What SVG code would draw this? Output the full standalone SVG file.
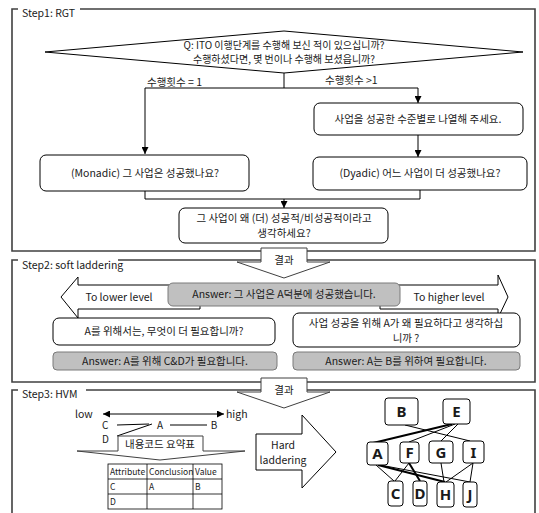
<svg xmlns="http://www.w3.org/2000/svg" width="539" height="513" viewBox="0 0 539 513">
<defs>
<marker id="ah" viewBox="0 0 10 10" refX="10" refY="5" markerWidth="7" markerHeight="7" orient="auto-start-reverse" markerUnits="userSpaceOnUse">
<path d="M0,0 L10,5 L0,10 z" fill="#000"/>
</marker>
</defs>
<style>
text{font-family:"Noto Sans CJK KR","Noto Sans",sans-serif;fill:#1a1a1a;}
.t{font-size:10.5px;text-anchor:middle;}
.lbl{font-size:10.5px;}
.frame{fill:none;stroke:#404040;stroke-width:1.6;}
.box{fill:#fff;stroke:#000;stroke-width:1;}
.ans{fill:#c0c0c0;stroke:#7a7a7a;stroke-width:1;}
.ln{fill:none;stroke:#000;stroke-width:1;}
.thk{fill:none;stroke:#000;stroke-width:2;}
.node{fill:#fff;stroke:#000;stroke-width:1;}
.nt{font-family:"Noto Sans","Noto Sans CJK KR",sans-serif;font-size:15px;font-weight:bold;text-anchor:middle;}
.tb{font-size:8.5px;}
.co{fill:#fff;stroke:#404040;stroke-width:1;}
</style>

<!-- frames -->
<g id="frame1">
<path class="frame" d="M18,9 H12 V251 H535 V9 H80"/>
<text class="lbl" x="22" y="17">Step1: RGT</text>
</g>
<g id="frame2">
<path class="frame" d="M18,260 H12 V382 H535 V260 H118"/>
<text class="lbl" x="22" y="269">Step2: soft laddering</text>
</g>
<g id="frame3">
<path class="frame" d="M18,390 H12 V513 M535,513 V390 H86"/>
<text class="lbl" x="22" y="398">Step3: HVM</text>
</g>

<!-- Step1 connectors -->
<g id="connectors1">
<path class="ln" d="M284,73 V88 M145,88 H418"/>
<path class="ln" d="M145,88 V154" marker-end="url(#ah)"/>
<path class="ln" d="M418,88 V103" marker-end="url(#ah)"/>
<path class="ln" d="M418,135 V157" marker-end="url(#ah)"/>
<path class="ln" d="M145,191 V199 H420 V190"/>
<path class="ln" d="M284,199 V208" marker-end="url(#ah)"/>
<text class="lbl" x="147" y="86">수행횟수 = 1</text>
<text class="lbl" x="325" y="84">수행횟수 &gt;1</text>
</g>

<g id="q-diamond">
<polygon class="box" points="45,52 284,31 523,52 284,73"/>
<text class="t" x="284" y="48.5" style="font-size:10px">Q: ITO 이행단계를 수행해 보신 적이 있으십니까?</text>
<text class="t" x="284" y="62.5" style="font-size:10px">수행하셨다면, 몇 번이나 수행해 보셨읍니까?</text>
</g>
<g id="rank-box">
<rect class="box" x="314" y="103" width="209" height="32" rx="6"/>
<text class="t" x="418" y="123">사업을 성공한 수준별로 나열해 주세요.</text>
</g>
<g id="monadic">
<rect class="box" x="40" y="155" width="209" height="36" rx="6"/>
<text class="t" x="145" y="177">(Monadic) 그 사업은 성공했나요?</text>
</g>
<g id="dyadic">
<rect class="box" x="313" y="157" width="214" height="33" rx="6"/>
<text class="t" x="420" y="177">(Dyadic) 어느 사업이 더 성공했나요?</text>
</g>
<g id="why-box">
<rect class="box" x="179" y="208" width="209" height="35" rx="6"/>
<text class="t" x="284" y="222">그 사업이 왜 (더) 성공적/비성공적이라고</text>
<text class="t" x="284" y="237">생각하세요?</text>
</g>

<!-- Step2 -->
<g id="lower-arrow">
<polygon class="box" points="61,297 78,277 78,285 200,285 200,309 78,309 78,318"/>
<text class="t" x="119" y="301">To lower level</text>
</g>
<g id="higher-arrow">
<polygon class="box" points="380,285 498,285 498,275 508,297 498,318 498,309 380,309"/>
<text class="t" x="449" y="301">To higher level</text>
</g>
<g id="answer1">
<rect class="ans" x="168" y="283" width="232" height="23" rx="5"/>
<text class="t" x="284" y="298">Answer: 그 사업은 A덕분에 성공했습니다.</text>
</g>
<g id="q-lower">
<rect class="box" x="53" y="318" width="222" height="27" rx="6"/>
<text class="t" x="164" y="335">A를 위해서는, 무엇이 더 필요합니까?</text>
</g>
<g id="q-higher">
<rect class="box" x="293" y="313" width="227" height="34" rx="6"/>
<text class="t" x="406" y="327">사업 성공을 위해 A가 왜 필요하다고 생각하십</text>
<text class="t" x="406" y="342">니까 ?</text>
</g>
<g id="answer-lower">
<rect class="ans" x="53" y="352" width="224" height="18" rx="4"/>
<text class="t" x="165" y="365">Answer: A를 위해 C&amp;D가 필요합니다.</text>
</g>
<g id="answer-higher">
<rect class="ans" x="293" y="352" width="227" height="18" rx="4"/>
<text class="t" x="406" y="365">Answer: A는 B를 위하여 필요합니다.</text>
</g>

<!-- result callouts -->
<g id="result1">
<path class="co" d="M261,248 H307 V262 H330 L284,278 L237,262 H261 Z"/>
<text class="t" x="284" y="264">결과</text>
</g>
<g id="result2">
<path class="co" d="M261,378 H307 V392 H330 L284,408 L237,392 H261 Z"/>
<text class="t" x="284" y="394">결과</text>
</g>

<!-- Step3 -->
<g id="scale">
<text class="lbl" x="75" y="418">low</text>
<path class="ln" d="M103,414 H224" marker-start="url(#ah)" marker-end="url(#ah)"/>
<text class="lbl" x="226" y="418">high</text>
<text class="lbl" x="102" y="429" style="font-size:10px">C</text>
<text class="lbl" x="102" y="443" style="font-size:10px">D</text>
<text class="t" x="160" y="429" style="font-size:10px">A</text>
<text class="t" x="214" y="429" style="font-size:10px">B</text>
<path class="ln" d="M117,425 L149,424 M117,436 L152,424 M170,425 H207"/>
</g>
<g id="summary-callout">
<path class="co" d="M118,436 H203 V451 H245 L160,460 L77,451 H118 Z"/>
<text class="t" x="160" y="448" style="font-size:10.5px">내용코드 요약표</text>
</g>
<g id="table">
<rect x="108" y="464" width="114" height="45" fill="#fff" stroke="#000" stroke-width="0.8"/>
<path d="M108,479 H222 M108,494 H222 M147,464 V509 M193,464 V509" stroke="#000" stroke-width="0.8" fill="none"/>
<text class="tb" x="110" y="475">Attribute</text>
<text class="tb" x="149" y="475">Conclusion</text>
<text class="tb" x="195" y="475">Value</text>
<text class="tb" x="110" y="490">C</text>
<text class="tb" x="149" y="490">A</text>
<text class="tb" x="195" y="490">B</text>
<text class="tb" x="110" y="505">D</text>
</g>
<g id="hard-arrow">
<polygon class="box" points="256,434 302,434 302,415 336,452 302,488 302,470 256,470"/>
<text class="t" x="283" y="449">Hard</text>
<text class="t" x="283" y="464">laddering</text>
</g>

<!-- HVM graph edges -->
<g id="hvm-edges">
<path class="ln" d="M405,425 L470,441"/>
<path class="thk" d="M452,424 L373,443"/>
<path class="ln" d="M455,424 L409,442"/>
<path class="ln" d="M458,424 L441,441"/>
<path class="ln" d="M376,465 L394,481"/>
<path class="thk" d="M378,465 L445,482"/>
<path class="ln" d="M380,465 L470,482"/>
<path class="ln" d="M409,463 L395,481"/>
<path class="thk" d="M409,463 L420,481"/>
<path class="ln" d="M441,463 L444,482"/>
<path class="ln" d="M473,463 L446,482"/>
<path class="ln" d="M473,463 L470,482"/>
</g>
<g id="node-B"><rect class="node" x="385" y="398" width="33" height="27" rx="3" stroke-width="2"/><text class="nt" x="401.5" y="417">B</text></g>
<g id="node-E"><rect class="node" x="443" y="399" width="27" height="25" rx="3"/><text class="nt" x="456.5" y="417">E</text></g>
<g id="node-A"><rect class="node" x="367" y="442" width="21" height="23" rx="3"/><text class="nt" x="377.5" y="459">A</text></g>
<g id="node-F"><rect class="node" x="400" y="442" width="19" height="21" rx="3"/><text class="nt" x="409.5" y="458">F</text></g>
<g id="node-G"><rect class="node" x="429" y="441" width="24" height="22" rx="3"/><text class="nt" x="441" y="458">G</text></g>
<g id="node-I"><rect class="node" x="463" y="441" width="21" height="22" rx="3"/><text class="nt" x="473.5" y="458">I</text></g>
<g id="node-C"><rect class="node" x="388" y="481" width="15" height="25" rx="3"/><text class="nt" x="395.5" y="499">C</text></g>
<g id="node-D"><rect class="node" x="413" y="481" width="14" height="25" rx="3"/><text class="nt" x="420" y="499">D</text></g>
<g id="node-H"><rect class="node" x="437" y="482" width="17" height="25" rx="3"/><text class="nt" x="445.5" y="500">H</text></g>
<g id="node-J"><rect class="node" x="463" y="482" width="14" height="25" rx="3"/><text class="nt" x="470" y="500">J</text></g>
</svg>
